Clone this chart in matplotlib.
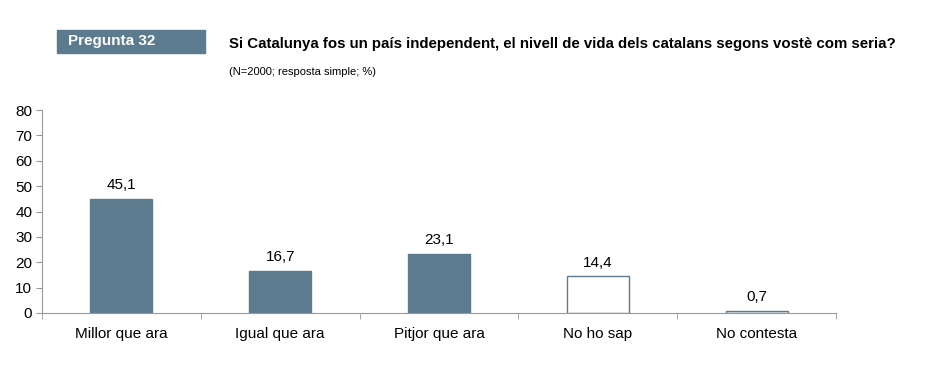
import matplotlib.pyplot as plt
import numpy as np
from matplotlib.patches import Rectangle

plt.rcParams["font.family"] = ["Liberation Sans", "DejaVu Sans"]

categories = ["Millor que ara", "Igual que ara", "Pitjor que ara", "No ho sap", "No contesta"]
values = [45.1, 16.7, 23.1, 14.4, 0.7]
filled = [True, True, True, False, False]
value_labels = ["45,1", "16,7", "23,1", "14,4", "0,7"]

BAR_COLOR = "#5d7b8e"
AXIS_COLOR = "#999999"

fig = plt.figure(figsize=(9.26, 3.87), dpi=100)
ax = fig.add_axes([42 / 926, 1 - 313 / 387, (836 - 42) / 926, (313 - 110) / 387])

x = np.arange(len(categories))
for xi, v, f, lbl in zip(x, values, filled, value_labels):
    if f:
        ax.bar(xi, v, 0.39, color=BAR_COLOR, edgecolor=BAR_COLOR, linewidth=1)
    else:
        ax.bar(xi, v, 0.39, facecolor="white", edgecolor=BAR_COLOR, linewidth=1)
    ax.annotate(lbl, xy=(xi, v), xytext=(0, 5), textcoords="offset points",
                ha="center", va="bottom", fontsize=11)

ax.set_xlim(-0.5, len(categories) - 0.5)
ax.set_ylim(0, 80)
ax.set_yticks(range(0, 81, 10))
ax.set_xticks(x)
ax.set_xticklabels(categories, fontsize=11)
ax.tick_params(axis="x", length=0, pad=10)
ax.set_xticks(np.arange(-0.5, len(categories)), minor=True)
ax.tick_params(axis="x", which="minor", length=4, color=AXIS_COLOR, direction="out")
ax.tick_params(axis="y", length=4, color=AXIS_COLOR, labelsize=11, pad=3)
for side in ("top", "right"):
    ax.spines[side].set_visible(False)
for side in ("left", "bottom"):
    ax.spines[side].set_color(AXIS_COLOR)

# header band
fig.patches.append(Rectangle((57 / 926, 1 - 53 / 387), 148 / 926, 23 / 387,
                             transform=fig.transFigure, color=BAR_COLOR))
fig.text(68 / 926, 1 - 41 / 387, "Pregunta 32", color="white", fontsize=11,
         fontweight="bold", va="center", ha="left")
fig.text(229 / 926, 1 - 44 / 387,
         "Si Catalunya fos un país independent, el nivell de vida dels catalans segons vostè com seria?",
         fontsize=10.8, fontweight="bold", va="center", ha="left")
fig.text(229 / 926, 1 - 72 / 387, "(N=2000; resposta simple; %)", fontsize=8,
         va="center", ha="left")

fig.savefig("out.png", dpi=100)
